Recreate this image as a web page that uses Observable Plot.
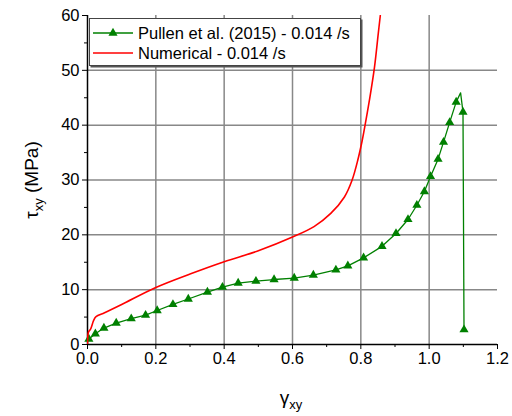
<!DOCTYPE html>
<html>
<head>
<meta charset="utf-8">
<script src="https://cdn.jsdelivr.net/npm/d3@7"></script>
<script src="https://cdn.jsdelivr.net/npm/@observablehq/plot@0.6"></script>
<style>
  body { margin: 0; background: #fff; font-family: "Liberation Sans", Arial, sans-serif; }
  #wrap { position: relative; width: 512px; height: 416px; }
  #legend { position: absolute; left: 89px; top: 18px; width: 270px; height: 46px;
    border: 1px solid #444; box-shadow: 1.5px 1.5px 0 #555; background: #fff; font-size: 16.5px; color: #000; }
  .row { position: absolute; left: 0; height: 20px; display: flex; align-items: center; white-space: nowrap; }
  .row svg { margin-left: 3px; margin-right: 5px; }
</style>
</head>
<body>
<div id="wrap"></div>
<script>
// Pullen et al. (2015) - 0.014 /s (markers)
const pullenX = [0.004, 0.023, 0.048, 0.084, 0.128, 0.17, 0.204, 0.25, 0.295, 0.351, 0.395, 0.441, 0.493, 0.546, 0.605, 0.661, 0.727, 0.762, 0.808, 0.862, 0.903, 0.938, 0.964, 0.986, 1.004, 1.026, 1.042, 1.060, 1.079, 1.099, 1.102];
const pullenY = [1.0, 1.95, 3.0, 3.9, 4.7, 5.35, 6.2, 7.3, 8.3, 9.55, 10.45, 11.2, 11.55, 11.85, 12.1, 12.65, 13.6, 14.35, 15.8, 17.9, 20.25, 22.8, 25.4, 27.9, 30.65, 33.8, 36.9, 40.5, 44.2, 42.4, 2.7];
// unmarked peak of the experimental curve
const pullenPeak = [1.092, 45.9];
// Numerical - 0.014 /s
const numX = [0, 0.003, 0.009, 0.018, 0.025, 0.05, 0.1, 0.2, 0.302, 0.4, 0.5, 0.6, 0.663, 0.712, 0.752, 0.774, 0.791, 0.804, 0.815, 0.825, 0.84, 0.851, 0.857];
const numY = [0, 2.3, 2.8, 4.4, 5.1, 5.8, 7.3, 10.4, 12.9, 15.1, 17.1, 19.6, 21.5, 23.9, 26.9, 29.9, 33.6, 37.2, 40.9, 44.5, 50.6, 56.7, 60];
const xTicks = [0, 0.2, 0.4, 0.6, 0.8, 1.0, 1.2];
const xMinor = [0.1, 0.3, 0.5, 0.7, 0.9, 1.1];
const yTicks = [0, 10, 20, 30, 40, 50, 60];
const yMinor = [5, 15, 25, 35, 45, 55];
const xGrid = [0.2, 0.4, 0.6, 0.8, 1.0];
const yGrid = [10, 20, 30, 40, 50];
const legendLabels = ["Pullen et al. (2015) - 0.014 /s", "Numerical - 0.014 /s"];

const markers = pullenX.map((x, i) => ({x, y: pullenY[i]}));
const pullenLine = [...markers.slice(0, markers.length - 2), {x: pullenPeak[0], y: pullenPeak[1]}, ...markers.slice(markers.length - 2)];
const numLine = numX.map((x, i) => ({x, y: numY[i]}));

const green = "#008000", red = "#ff0000";

const chart = Plot.plot({
  width: 512, height: 416,
  marginLeft: 87, marginRight: 15, marginTop: 15, marginBottom: 72,
  style: {fontFamily: "'Liberation Sans', Arial, sans-serif", fontSize: "16.5px", color: "#000", background: "#fff"},
  x: {domain: [0, 1.2]},
  y: {domain: [0, 60]},
  marks: [
    Plot.gridX(xGrid, {stroke: "#888", strokeOpacity: 1, strokeWidth: 1.5}),
    Plot.gridY(yGrid, {stroke: "#888", strokeOpacity: 1, strokeWidth: 1.5}),
    Plot.axisX(xTicks, {tickSize: 5, tickPadding: 3, tickFormat: d3.format(".1f"), label: null, stroke: "#000", strokeWidth: 1}),
    Plot.axisX(xMinor, {tickSize: 3, tickFormat: () => "", label: null, stroke: "#000"}),
    Plot.axisY(yTicks, {tickSize: 5, tickPadding: 3, label: null, stroke: "#000"}),
    Plot.axisY(yMinor, {tickSize: 3, tickFormat: () => "", label: null, stroke: "#000"}),
    Plot.ruleX([0], {stroke: "#000", strokeWidth: 1.5}),
    Plot.ruleY([0], {stroke: "#000", strokeWidth: 1.5}),
    Plot.line(pullenLine, {x: "x", y: "y", stroke: green, strokeWidth: 1.3}),
    Plot.dot(markers, {x: "x", y: "y", symbol: "triangle", fill: green, stroke: "none", r: 3.4}),
    Plot.line(numLine, {x: "x", y: "y", stroke: red, strokeWidth: 1.6, curve: "catmull-rom", clip: true})
  ]
});

const svg = d3.select(chart);
// y axis title: τxy (MPa)
const yt = svg.append("text")
  .attr("transform", "translate(38,180) rotate(-90)")
  .attr("text-anchor", "middle")
  .attr("font-size", 19).attr("fill", "#000");
yt.append("tspan").text("τ");
yt.append("tspan").attr("font-size", 13).attr("dy", 5).text("xy");
yt.append("tspan").attr("dy", -5).text(" (MPa)");
// x axis title: γxy
const xt = svg.append("text")
  .attr("x", 291).attr("y", 404)
  .attr("text-anchor", "middle")
  .attr("font-size", 19).attr("fill", "#000");
xt.append("tspan").text("γ");
xt.append("tspan").attr("font-size", 13).attr("dy", 5).text("xy");

const wrap = document.getElementById("wrap");
wrap.appendChild(chart);

// legend
const legend = document.createElement("div");
legend.id = "legend";
const entries = [{color: green, marker: true}, {color: red, marker: false}];
entries.forEach((e, i) => {
  const row = document.createElement("div");
  row.className = "row";
  row.style.top = (i === 0 ? 4 : 24) + "px";
  const s = d3.create("svg").attr("width", 40).attr("height", 14);
  s.append("line").attr("x1", 0).attr("x2", 40).attr("y1", 7).attr("y2", 7).attr("stroke", e.color).attr("stroke-width", e.marker ? 1.3 : 1.6);
  if (e.marker) s.append("path").attr("d", d3.symbol(d3.symbolTriangle, 36)()).attr("transform", "translate(20,7)").attr("fill", e.color);
  row.appendChild(s.node());
  const t = document.createElement("span");
  t.textContent = legendLabels[i];
  row.appendChild(t);
  legend.appendChild(row);
});
wrap.appendChild(legend);
</script>
</body>
</html>
